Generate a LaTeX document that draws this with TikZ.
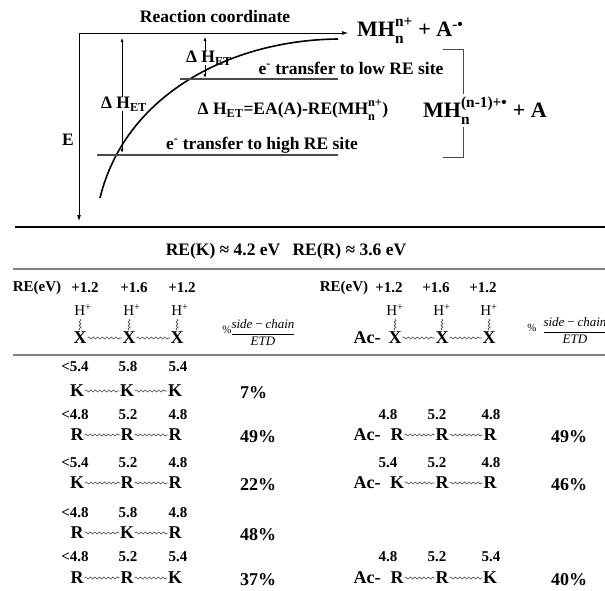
\documentclass[tikz,border=0pt]{standalone}
\usepackage{fontspec}
\setmainfont{Liberation Serif}
\usetikzlibrary{arrows.meta,decorations.pathmorphing}
\definecolor{rgray}{HTML}{4A4A4A}
\definecolor{lgray}{HTML}{808080}
\newcommand\fsz[1]{\fontsize{#1}{#1}\selectfont}
\newcommand\sbsp[2]{\rlap{\raisebox{-0.4ex}{\textsubscript{#1}}}\raisebox{0.25ex}{\textsuperscript{#2}}}
\newcommand\fracbox{\renewcommand\arraystretch{1.25}\begin{tabular}{@{}c@{}}side\,−\,chain\\\hline ETD\end{tabular}}
\tikzset{
 lab/.style={inner sep=0pt, font=\bfseries\fsz{17.5}},
 big/.style={inner sep=0pt, font=\bfseries\fsz{22}},
 num/.style={inner sep=0pt, font=\bfseries\fsz{15}},
 res/.style={inner sep=0.8pt, font=\bfseries\fsz{18}},
 hp/.style={inner sep=0pt, font=\fsz{15}},
 frac/.style={inner sep=0pt, font=\itshape\fsz{13}},
 pct/.style={inner sep=0pt, font=\fsz{11}},
 bond/.style={decorate, decoration={snake, amplitude=1pt, segment length=4.5pt}, rgray, line width=0.6pt},
 bondv/.style={bond, decoration={snake, amplitude=0.9pt, segment length=3.5pt}},
 elevel/.style={rgray, line width=1.6pt},
 sepline/.style={lgray, line width=1.8pt},
 dharr/.style={{Latex[length=4pt,width=3pt]}-{Latex[length=4pt,width=3pt]}, line width=0.6pt},
 axis/.style={{Latex[length=6pt,width=4pt]}-{Latex[length=6pt,width=4pt]}, line width=0.7pt}
}
\begin{document}
\begin{tikzpicture}[x=1pt,y=-1pt]
 \useasboundingbox (0,0) rectangle (605,591);
 \coordinate (orig) at (79,33);
 \coordinate (xend) at (348,33);
 \coordinate (yend) at (79,221);
 \draw[axis] (xend) -- (orig) -- (yend);
 \coordinate (a0) at (122,153);
 \coordinate (a1) at (122,38);
 \draw[dharr] (a0) -- (a1);
 \coordinate (b0) at (205,78);
 \coordinate (b1) at (205,37);
 \draw[dharr] (b0) -- (b1);
 \node[lab, fill=white] (dh1) at (124,104) {Δ H\textsubscript{ET}};
 \node[lab, fill=white] (dh2) at (209,58) {Δ H\textsubscript{ET}};
 \coordinate (c0) at (100,198);
 \coordinate (c1) at (338,39);
 \draw[line width=1.6pt] (c0) .. controls (125,95) and (230,40) .. (c1);
 \coordinate (lo0) at (180,79);
 \coordinate (lo1) at (338,79);
 \coordinate (hi0) at (97,155);
 \coordinate (hi1) at (338,155);
 \draw[elevel] (lo0) -- (lo1);
 \draw[elevel] (hi0) -- (hi1);
 \node[lab] (rc) at (215,17) {Reaction coordinate};
 \node[big, anchor=west] (p1) at (357,31) {MH\sbsp{n}{n+} + A\textsuperscript{-\textbullet}};
 \node[lab] (lo) at (351,68) {e\textsuperscript{-} transfer to low RE site};
 \node[lab] (hi) at (262,145) {e\textsuperscript{-} transfer to high RE site};
 \node[lab] (eq) at (293,110) {Δ H\textsubscript{ET}=EA(A)-RE(MH\sbsp{n}{n+})};
 \node[big] (p2) at (485,111) {MH\sbsp{n}{(n-1)+\textbullet} + A};
 \node[lab] (E) at (68,140) {E};
 \coordinate (k0) at (443,49);
 \coordinate (k1) at (443,157);
 \draw[rgray, line width=0.8pt] (k0) -| ([yshift=3pt]p2.north -| 463,0);
 \draw[rgray, line width=0.8pt] (k1) -| ([yshift=-2pt]p2.south -| 463,0);
 \draw[line width=2.2pt] (15,227) -- (605,227);
 \node[lab] (re) at (286,251) {RE(K) ≈ 4.2 eV\hspace{0.7em}RE(R) ≈ 3.6 eV};
 \draw[sepline] (13,269) -- (605,269);
 \draw[sepline] (13,355) -- (605,355);
 \node[num] (rel) at (37,288) {RE(eV)};
 \node[num] (rer) at (344,288) {RE(eV)};
 \foreach \x/\rx/\v [count=\i] in {80/395/+1.2,129/442/+1.6,177/489/+1.2}{
  \node[num] (el\i) at (\x+5,288) {\v};
  \node[num] (er\i) at (\rx-6,288) {\v};
  \node[hp] (hl\i) at (\x+3,310) {H\textsuperscript{+}};
  \node[hp] (hr\i) at (\rx+0,310) {H\textsuperscript{+}};
  \node[res] (xl\i) at (\x,338) {X};
  \node[res] (xr\i) at (\rx,338) {X};
  \draw[bondv] ([yshift=1pt]xl\i.north) -- ([yshift=-3pt]xl\i.north |- hl\i.south);
  \draw[bondv] ([yshift=1pt]xr\i.north) -- ([yshift=-3pt]xr\i.north |- hr\i.south);
 }
 \node[res] (acx) at (367,338) {Ac-};
 \draw[bond] (xl1) -- (xl2);
 \draw[bond] (xl2) -- (xl3);
 \draw[bond] (xr1) -- (xr2);
 \draw[bond] (xr2) -- (xr3);
 \node[pct] (pl) at (227,330) {\%};
 \node[frac] (fl) at (263,334) {\fracbox};
 \node[pct] (pr) at (532,328) {\%};
 \node[frac] (fr) at (575,332) {\fracbox};
 \foreach \r/\v/\y/\na/\nb/\nc/\a/\b/\c/\p in {1/367/391/{<5.4}/5.8/5.4/K/K/K/7\%, 2/415/435/{<4.8}/5.2/4.8/R/R/R/49\%, 3/463/483/{<5.4}/5.2/4.8/K/R/R/22\%, 4/513/533/{<4.8}/5.8/4.8/R/K/R/48\%, 5/557/578/{<4.8}/5.2/5.4/R/R/K/37\%}{
  \node[num] (na\r) at (75,\v) {\na};
  \node[num] (nb\r) at (128,\v) {\nb};
  \node[num] (nc\r) at (178,\v) {\nc};
  \node[res] (a\r) at (77,\y) {\a};
  \node[res] (b\r) at (127,\y) {\b};
  \node[res] (c\r) at (175,\y) {\c};
  \draw[bond] (a\r) -- (b\r);
  \draw[bond] (b\r) -- (c\r);
  \node[res, anchor=west] (p\r) at (239,\y+2) {\p};
 }
 \foreach \r/\v/\y/\na/\nb/\nc/\a/\b/\c/\p in {2/415/435/4.8/5.2/4.8/R/R/R/49\%, 3/463/483/5.4/5.2/4.8/K/R/R/46\%, 5/557/578/4.8/5.2/5.4/R/R/K/40\%}{
  \node[num] (rna\r) at (388,\v) {\na};
  \node[num] (rnb\r) at (437,\v) {\nb};
  \node[num] (rnc\r) at (491,\v) {\nc};
  \node[res] (ac\r) at (367,\y) {Ac-};
  \node[res] (ra\r) at (397,\y) {\a};
  \node[res] (rb\r) at (442,\y) {\b};
  \node[res] (rc\r) at (490,\y) {\c};
  \draw[bond] (ra\r) -- (rb\r);
  \draw[bond] (rb\r) -- (rc\r);
  \node[res, anchor=west] (rp\r) at (550,\y+2) {\p};
 }
\end{tikzpicture}
\end{document}
